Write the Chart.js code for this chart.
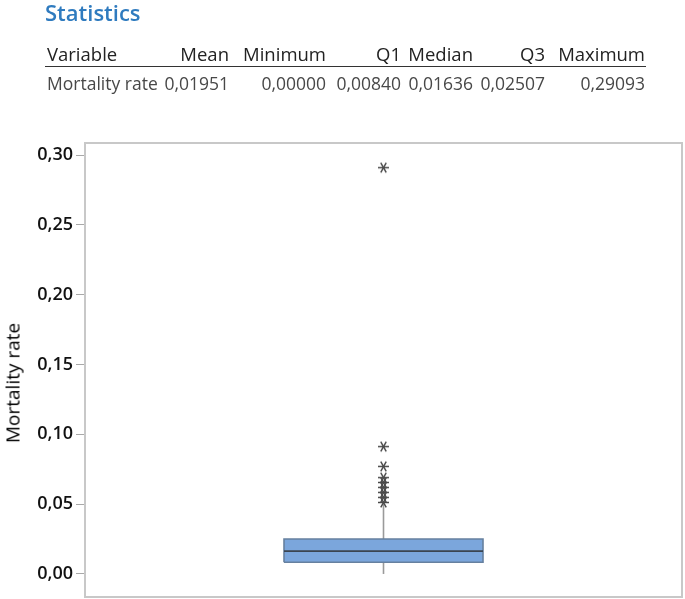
<!DOCTYPE html>
<html>
<head>
<meta charset="utf-8">
<script src="https://cdn.jsdelivr.net/npm/chart.js@4.4.1/dist/chart.umd.min.js"></script>
<style>
    body { margin: 0; background: #fff; }
    #page { position: relative; width: 685px; height: 599px; overflow: hidden; font-family: 'Open Sans', 'Noto Sans', sans-serif; }
    #chart { position: absolute; left: 0; top: 0; }
    .txt { position: absolute; line-height: 1; white-space: nowrap; }
    .title { font-size: 22px; font-weight: 600; color: #2f7bbf; left: 45px; top: 1px; }
    .head { font-size: 18.5px; color: #222; top: 45px; }
    .val { font-size: 17.5px; color: #484848; top: 75px; }
    .rule { position: absolute; left: 45px; top: 66px; width: 601px; height: 0; border-top: 1.5px solid #333; }
    .ytitle { font-size: 19px; color: #000; left: 13px; top: 383px; transform: translate(-50%, -50%) rotate(-90deg); }
</style>
</head>
<body>
<div id="page">
    <canvas id="chart" width="689" height="604"></canvas>
    <div class="txt title">Statistics</div>
    <div class="rule"></div>
    <div class="txt ytitle">Mortality rate</div>
</div>
<script>
// statistics table
const statHeaders = ['Variable', 'Mean', 'Minimum', 'Q1', 'Median', 'Q3', 'Maximum'];
const statValues = ['Mortality rate', '0,01951', '0,00000', '0,00840', '0,01636', '0,02507', '0,29093'];

// box plot values
const categories = ['Mortality rate'];
const boxQ1 = [0.00840];
const boxMedian = [0.01636];
const boxQ3 = [0.02507];
const whiskerLow = [0.00000];
const whiskerHigh = [0.0500];
const outliers = [0.29093, 0.0912, 0.0770, 0.0690, 0.0655, 0.0620, 0.0584, 0.0548, 0.0512];
const yTicks = [0.00, 0.05, 0.10, 0.15, 0.20, 0.25, 0.30];

// layout of the table columns (left edge for first, right edges for the rest)
const colLeft = 47;
const colRight = [0, 229, 326, 401, 473, 545, 645];

function buildTable() {
    const page = document.getElementById('page');
    statHeaders.forEach((h, i) => {
        addCell(page, 'head', h, i);
        addCell(page, 'val', statValues[i], i);
    });
}

function addCell(page, cls, text, i) {
    const el = document.createElement('div');
    el.className = 'txt ' + cls;
    el.textContent = text;
    if (i === 0) {
        el.style.left = colLeft + 'px';
    } else {
        el.style.right = (685 - colRight[i]) + 'px';
    }
    page.appendChild(el);
}

function starImage() {
    const c = document.createElement('canvas');
    c.width = 13;
    c.height = 13;
    const g = c.getContext('2d');
    g.strokeStyle = '#4a4a4a';
    g.lineWidth = 1.5;
    g.translate(6.5, 6.5);
    [0, 60, 120].forEach(a => {
        const r = a * Math.PI / 180;
        g.beginPath();
        g.moveTo(-5.5 * Math.cos(r), -5.5 * Math.sin(r));
        g.lineTo(5.5 * Math.cos(r), 5.5 * Math.sin(r));
        g.stroke();
    });
    return c;
}

const framePlugin = {
    id: 'frame',
    afterDraw(chart) {
        const { ctx, chartArea } = chart;
        ctx.save();
        ctx.strokeStyle = '#c8c8c8';
        ctx.lineWidth = 2;
        ctx.strokeRect(chartArea.left, chartArea.top, chartArea.right - chartArea.left, chartArea.bottom - chartArea.top);
        ctx.restore();
    }
};

function drawChart() {
    const ctx = document.getElementById('chart').getContext('2d');
    const half = 0.5;
    const datasets = [];

    categories.forEach((cat, i) => {
        datasets.push({
            label: cat + ' outliers',
            data: outliers.map(v => ({ x: i, y: v })),
            pointStyle: starImage(),
            pointRadius: 6,
            showLine: false,
            order: 0
        });
        datasets.push({
            label: cat + ' median',
            data: [{ x: i - half, y: boxMedian[i] }, { x: i + half, y: boxMedian[i] }],
            showLine: true,
            borderColor: '#3b4551',
            borderWidth: 1.6,
            pointRadius: 0,
            order: 1
        });
        datasets.push({
            label: cat + ' box',
            data: [
                { x: i - half, y: boxQ1[i] }, { x: i + half, y: boxQ1[i] },
                { x: i + half, y: boxQ3[i] }, { x: i - half, y: boxQ3[i] },
                { x: i - half, y: boxQ1[i] }
            ],
            showLine: true,
            borderColor: '#66809f',
            borderWidth: 1.6,
            pointRadius: 0,
            order: 2
        });
        datasets.push({
            label: cat + ' fill',
            data: [{ x: i - half, y: boxQ3[i] }, { x: i + half, y: boxQ3[i] }],
            showLine: true,
            borderWidth: 0,
            borderColor: 'rgba(0,0,0,0)',
            backgroundColor: '#7ba6dc',
            fill: { value: boxQ1[i] },
            pointRadius: 0,
            order: 3
        });
        datasets.push({
            label: cat + ' whisker',
            data: [{ x: i, y: whiskerLow[i] }, { x: i, y: whiskerHigh[i] }],
            showLine: true,
            borderColor: '#9a9a9a',
            borderWidth: 1.6,
            pointRadius: 0,
            order: 4
        });
    });

    new Chart(ctx, {
        type: 'scatter',
        data: { datasets: datasets },
        options: {
            responsive: false,
            animation: false,
            layout: { padding: { top: 143, right: 3, bottom: 3, left: 0 } },
            plugins: {
                legend: { display: false },
                tooltip: { enabled: false }
            },
            scales: {
                x: {
                    type: 'linear',
                    display: false,
                    min: -1.5,
                    max: categories.length + 0.5
                },
                y: {
                    min: -0.0165,
                    max: 0.3086,
                    afterFit: (scale) => {
                        scale.width = 85;
                        scale.paddingTop = 0;
                        scale.paddingBottom = 0;
                    },
                    afterBuildTicks: (scale) => { scale.ticks = yTicks.map(v => ({ value: v })); },
                    border: { display: false },
                    grid: {
                        drawOnChartArea: false,
                        drawTicks: true,
                        tickLength: 9,
                        color: '#a8a8a8'
                    },
                    ticks: {
                        padding: 3,
                        color: '#111',
                        font: { family: "'Open Sans', sans-serif", size: 18, weight: '600' },
                        callback: (v) => v.toFixed(2).replace('.', ',')
                    }
                }
            }
        },
        plugins: [framePlugin]
    });
}

buildTable();
drawChart();
</script>
</body>
</html>
